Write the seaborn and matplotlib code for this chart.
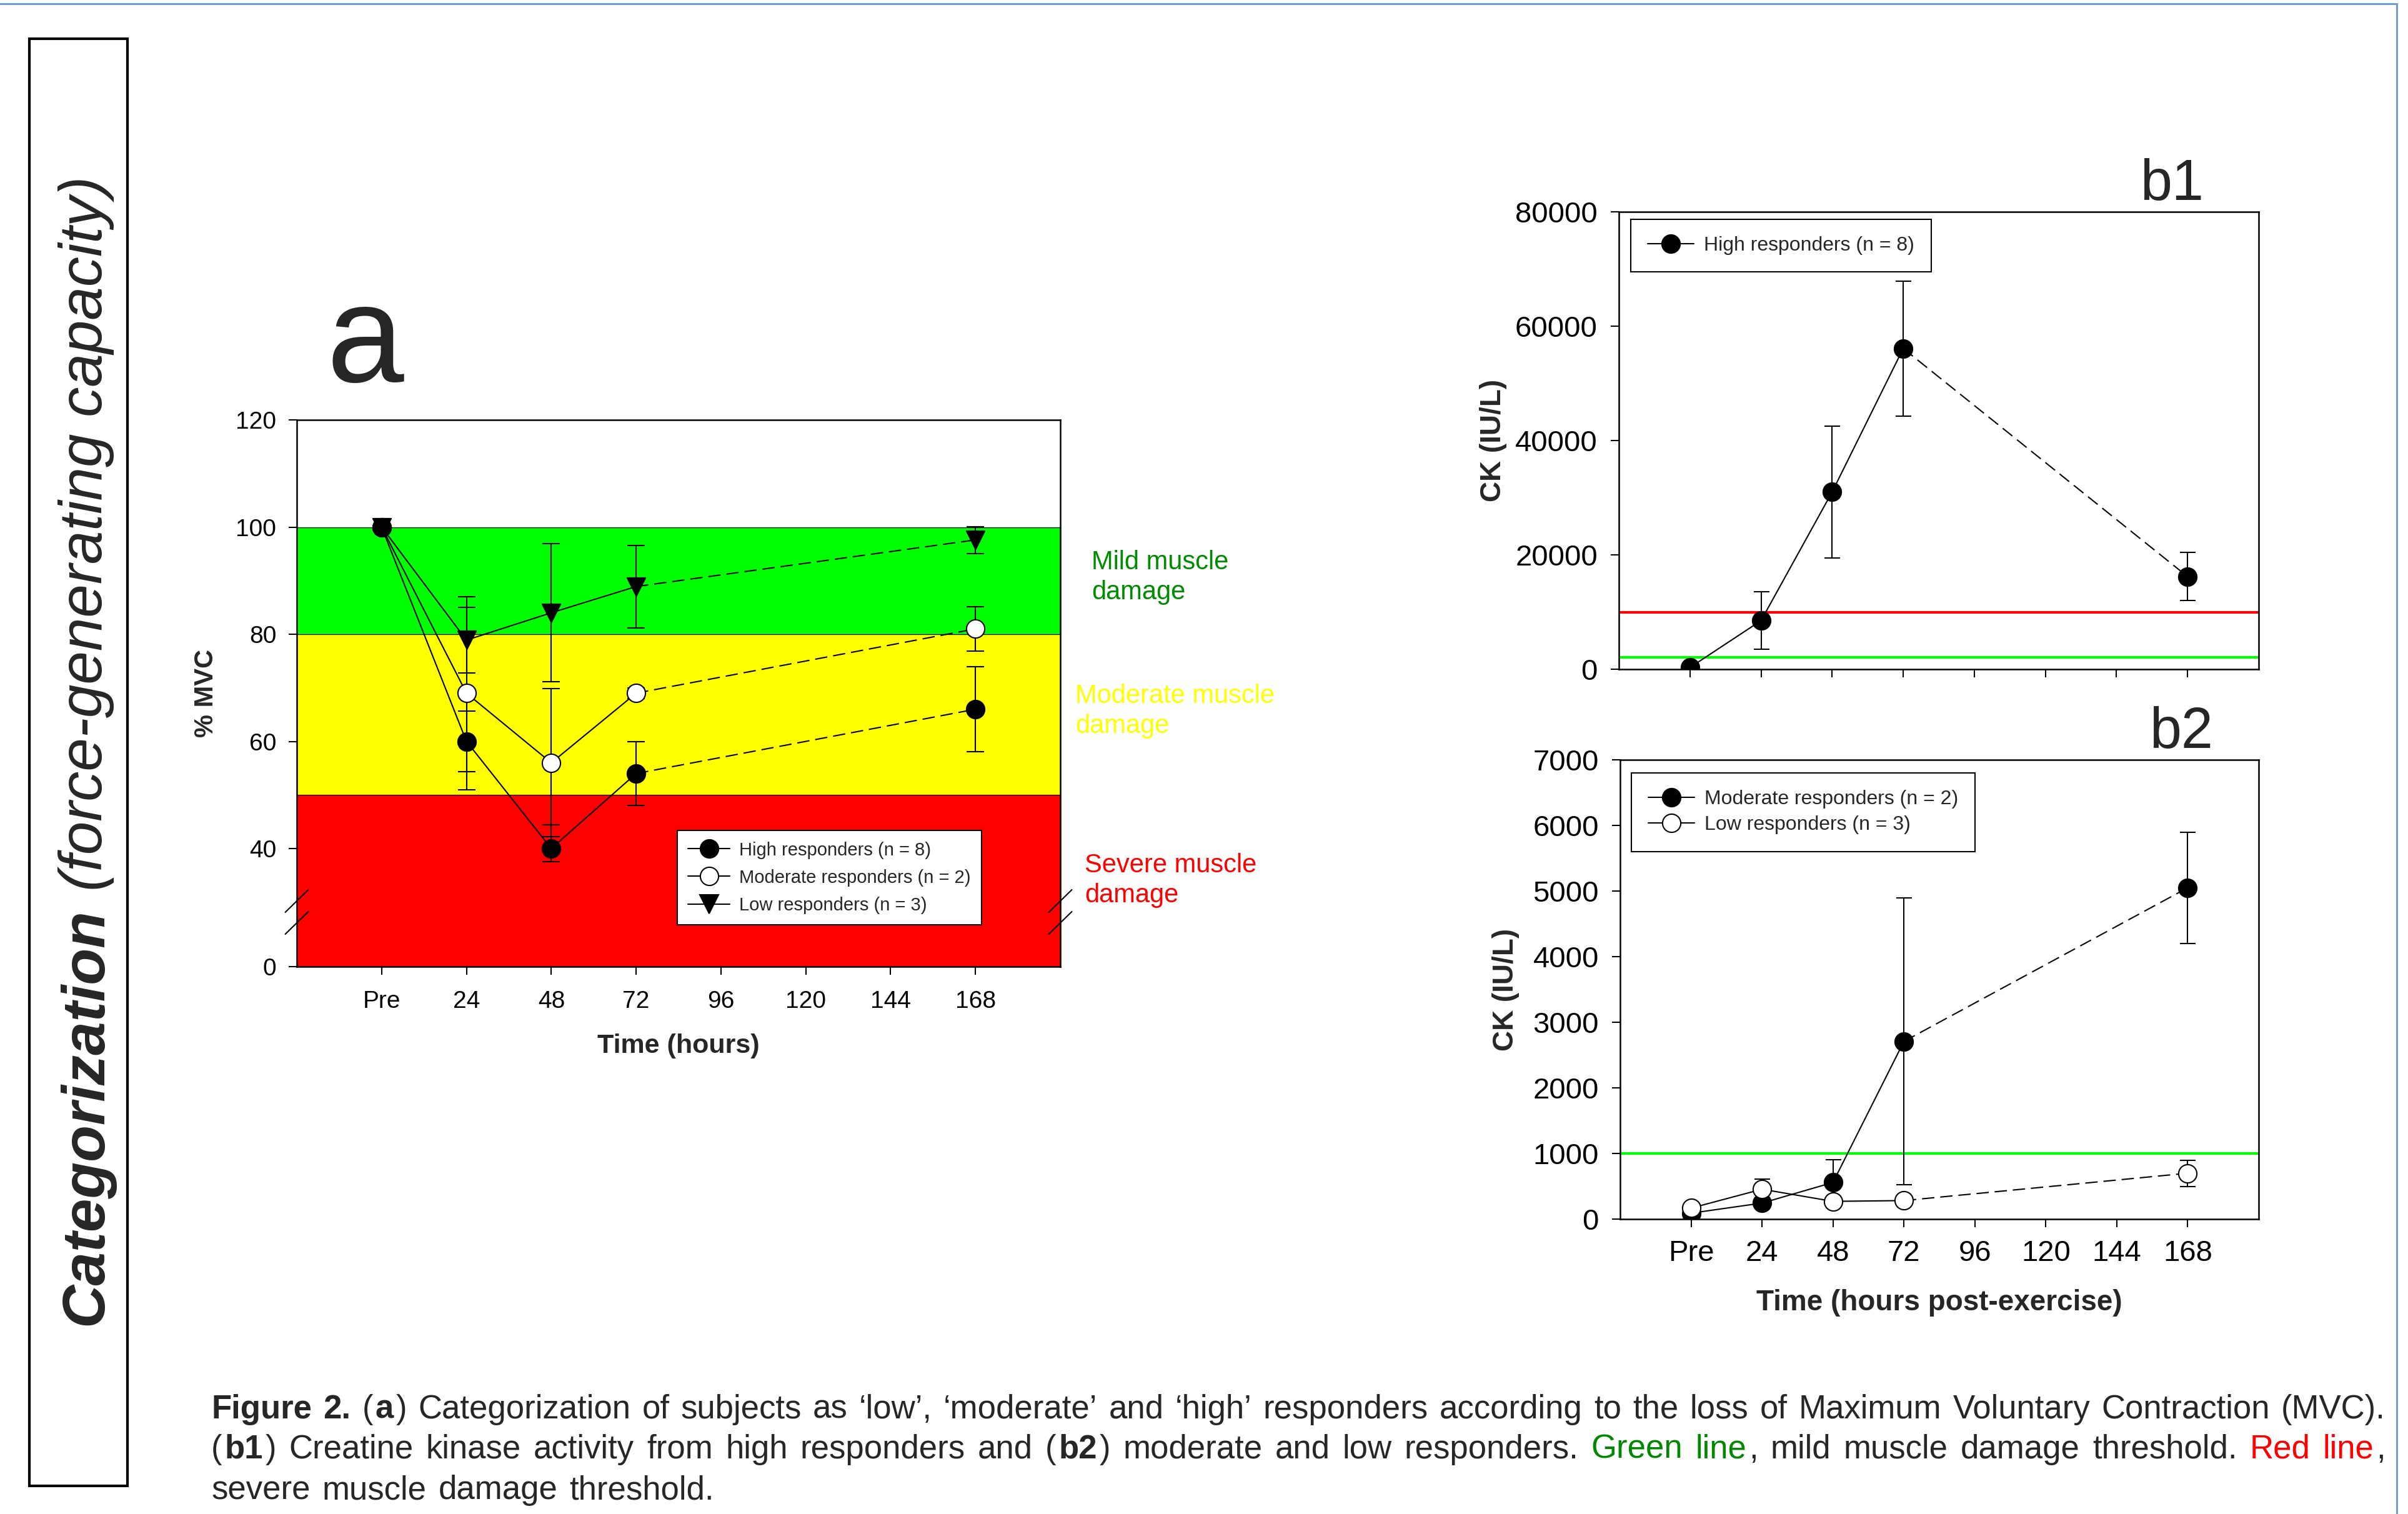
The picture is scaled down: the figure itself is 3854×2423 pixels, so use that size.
import numpy as np
import matplotlib
matplotlib.use("Agg")
import matplotlib.pyplot as plt
import seaborn as sns
from matplotlib.lines import Line2D
from matplotlib.patches import Rectangle

# time points (hours) and axis ticks
hours = [0, 24, 48, 72, 168]
tick_hours = [0, 24, 48, 72, 96, 120, 144, 168]
tick_labels = ["Pre", "24", "48", "72", "96", "120", "144", "168"]

# panel a: % MVC (mean, error)
mvc_high = [100, 60, 40, 54, 66]
mvc_high_err = [0.5, 5.7, 4.4, 5.9, 7.9]
mvc_mod = [100, 69, 56, 69, 81]
mvc_mod_err = [0.5, 18, 13.8, 1.0, 4.1]
mvc_low = [100, 78.9, 84, 88.9, 97.6]
mvc_low_err = [0.5, 6.1, 12.9, 7.7, 2.5]
mvc_ticks = [0, 40, 60, 80, 100, 120]
band_edges = [0, 50, 80, 100]

# panel b1: CK high responders
ck_high = [300, 8500, 31000, 56100, 16200]
ck_high_err = [100, 5000, 11500, 11800, 4200]
ck_high_ticks = [0, 20000, 40000, 60000, 80000]
b1_severe = 10000
b1_mild = 2100

# panel b2: CK moderate / low responders
ck_mod = [90, 244, 558, 2708, 5050]
ck_mod_err = [40, 80, 350, 2185, 850]
ck_low = [167, 455, 270, 282, 699]
ck_low_err = [40, 155, 40, 40, 200]
ck_low_ticks = [0, 1000, 2000, 3000, 4000, 5000, 6000, 7000]
b2_mild = 1000

sns.set_theme(style="ticks")
plt.rcParams["font.family"] = ["Liberation Sans", "DejaVu Sans"]
plt.rcParams["axes.linewidth"] = 1.8

W, H = 3854, 2423
fig = plt.figure(figsize=(W / 100, H / 100), dpi=100)
fig.patch.set_facecolor("white")


def frac(x, y):
    return x / W, 1 - y / H


def make_axes(left, top, right, bottom):
    x0, y1 = frac(left, top)
    x1, y0 = frac(right, bottom)
    ax = fig.add_axes([x0, y0, x1 - x0, y1 - y0])
    ax.set_facecolor("white")
    for s in ax.spines.values():
        s.set_color("black")
        s.set_linewidth(1.8)
    ax.tick_params(direction="out", length=9.5, width=1.5, colors="black",
                   top=False, right=False)
    ax.set_xlim(-24, 192)
    ax.set_xticks(tick_hours)
    return ax


def draw_series(ax, y, err, marker, face, ms=21, cap=10):
    ax.errorbar(hours, y, yerr=err, fmt="none", ecolor="black", elinewidth=1.5,
                capsize=cap, capthick=1.5, zorder=3)
    sns.lineplot(x=hours[:4], y=y[:4], ax=ax, color="black", linewidth=1.5,
                 estimator=None, sort=False, zorder=4)
    sns.lineplot(x=hours[3:], y=y[3:], ax=ax, color="black", linewidth=1.5,
                 estimator=None, sort=False, linestyle=(0, (9.5, 4.5)), zorder=4)
    sns.scatterplot(x=hours, y=y, ax=ax, marker=marker, s=ms ** 2, color=face,
                    edgecolor="black", linewidth=1.5, zorder=5, legend=False)


def handle(marker, face, ms=21):
    return Line2D([0], [0], color="black", lw=1.5, marker=marker, markersize=ms,
                  markerfacecolor=face, markeredgecolor="black", markeredgewidth=1.5)


def add_legend(ax, handles, labels, x0, top, size, bpad, lspace):
    leg = ax.legend(handles, labels, loc="upper left", bbox_to_anchor=(x0, top),
                    frameon=True, fancybox=False, edgecolor="black", framealpha=1,
                    fontsize=size, handlelength=2.3, handletextpad=0.5,
                    labelspacing=lspace, borderpad=bpad, borderaxespad=0)
    leg.get_frame().set_linewidth(1.5)
    leg.set_zorder(10)


# ---------------- panel a ----------------
def fwd(v):
    v = np.asarray(v, float)
    return np.where(v >= 40, v, 40 - (40 - v) * 0.551)


def inv(t):
    t = np.asarray(t, float)
    return np.where(t >= 40, t, 40 - (40 - t) / 0.551)


axa = make_axes(475, 672, 1697, 1547)
axa.set_yscale("function", functions=(fwd, inv))
axa.set_ylim(0, 120)
for lo, hi, c in zip(band_edges[:-1], band_edges[1:], ["#ff0000", "#ffff00", "#00ff00"]):
    axa.axhspan(lo, hi, color=c, lw=0, zorder=0)
for v in band_edges[1:]:
    axa.axhline(v, color="black", lw=0.9, zorder=1)

draw_series(axa, mvc_low, mvc_low_err, "v", "black")
draw_series(axa, mvc_mod, mvc_mod_err, "o", "white")
draw_series(axa, mvc_high, mvc_high_err, "o", "black")

axa.set_yticks(mvc_ticks)
axa.set_yticklabels([str(t) for t in mvc_ticks])
axa.set_xticklabels(tick_labels)
axa.tick_params(axis="y", labelsize=28, pad=14)
axa.tick_params(axis="x", labelsize=28, pad=18)
axa.set_xlabel("Time (hours)", fontsize=31, fontweight="bold")
axa.set_ylabel("% MVC", fontsize=30, fontweight="bold")
axa.yaxis.set_label_coords(-0.102, 0.5)
axa.xaxis.set_label_coords(0.5, -0.122)

# axis break marks
for yb in (0.08, 0.12):
    for xb in (0.0, 1.0):
        axa.plot([xb - 0.0151, xb + 0.0151], [yb - 0.0206, yb + 0.0206],
                 transform=axa.transAxes, color="black", lw=1.5, clip_on=False, zorder=6)

add_legend(axa,
           [handle("o", "black"), handle("o", "white"), handle("v", "black")],
           ["High responders (n = 8)", "Moderate responders (n = 2)", "Low responders (n = 3)"],
           0.498, 0.249, 21, 0.6, 0.55)

fig.text(*frac(1747, 880), "Mild muscle\ndamage", color="#008c00", fontsize=30,
         ha="left", va="top", linespacing=1.25)
fig.text(*frac(1721, 1094), "Moderate muscle\ndamage", color="#ffff00", fontsize=30,
         ha="left", va="top", linespacing=1.25)
fig.text(*frac(1736, 1365), "Severe muscle\ndamage", color="#ff0000", fontsize=30,
         ha="left", va="top", linespacing=1.25)
fig.text(*frac(522, 611), "a", fontsize=160, ha="left", va="baseline")

# ---------------- panel b1 ----------------
axb1 = make_axes(2591, 339, 3615, 1071)
axb1.set_ylim(0, 80000)
axb1.set_yticks(ck_high_ticks)
axb1.set_xticklabels([])
axb1.axhline(b1_severe, color="#ff0000", lw=3, zorder=2)
axb1.axhline(b1_mild, color="#00ff00", lw=3, zorder=2)
draw_series(axb1, ck_high, ck_high_err, "o", "black", cap=9)
axb1.tick_params(axis="y", labelsize=34, pad=15)
axb1.set_ylabel("CK (IU/L)", fontsize=33, fontweight="bold")
axb1.yaxis.set_label_coords(-0.175, 0.5)
add_legend(axb1, [handle("o", "black")], ["High responders (n = 8)"],
           0.0186, 0.9836, 23, 0.85, 0.35)
fig.text(*frac(3425, 320), "b1", fontsize=66, ha="left", va="baseline")

# ---------------- panel b2 ----------------
axb2 = make_axes(2593, 1216, 3615, 1951)
axb2.set_ylim(0, 7000)
axb2.set_yticks(ck_low_ticks)
axb2.set_xticklabels(tick_labels)
axb2.axhline(b2_mild, color="#00ff00", lw=3, zorder=2)
draw_series(axb2, ck_mod, ck_mod_err, "o", "black", cap=9)
draw_series(axb2, ck_low, ck_low_err, "o", "white", cap=9)
axb2.tick_params(axis="y", labelsize=34, pad=15)
axb2.tick_params(axis="x", labelsize=34, pad=14)
axb2.set_ylabel("CK (IU/L)", fontsize=33, fontweight="bold")
axb2.yaxis.set_label_coords(-0.158, 0.5)
axb2.set_xlabel("Time (hours post-exercise)", fontsize=33, fontweight="bold")
axb2.xaxis.set_label_coords(0.5, -0.152)
add_legend(axb2, [handle("o", "black"), handle("o", "white")],
           ["Moderate responders (n = 2)", "Low responders (n = 3)"],
           0.0176, 0.9714, 23, 0.85, 0.35)
fig.text(*frac(3440, 1197), "b2", fontsize=66, ha="left", va="baseline")

# ---------------- side box ----------------
fig.add_artist(Rectangle(frac(47, 2378), 157 / W, 2316 / H, transform=fig.transFigure,
                         fill=False, edgecolor="black", lw=3))
renderer = fig.canvas.get_renderer()
t1 = fig.text(*frac(163, 2121), "Categorization", fontsize=69.2, fontweight="bold",
              fontstyle="italic", rotation=90, rotation_mode="anchor",
              ha="left", va="baseline")
len1 = t1.get_window_extent(renderer).height
fig.text(163 / W, 1 - (2121 - len1 - 27) / H, "(force-generating capacity)", fontsize=69.2,
         fontstyle="italic", rotation=90, rotation_mode="anchor", ha="left", va="baseline")

# ---------------- caption ----------------
cap_size = 38
styles = {"n": {}, "b": {"fontweight": "bold"}, "g": {"color": "#008800"},
          "r": {"color": "#ff0000"}}


def plain(s):
    return [[(w, "n")] for w in s.split()]


def width(s, st):
    t = fig.text(0, 0, s, fontsize=cap_size, **styles[st])
    w = t.get_window_extent(renderer).width
    t.remove()
    return w


def draw_words(words, baseline, left, right=None):
    pad = 0.07 * cap_size * 100 / 72
    widths = []
    for wd in words:
        widths.append([width(s, st) for s, st in wd])
    totals = [sum(w) + pad * (len(w) - 1) for w in widths]
    if right is None:
        gap = 0.36 * cap_size * 100 / 72
    else:
        gap = (right - left - sum(totals)) / (len(words) - 1)
    x = left
    for wd, ws, tot in zip(words, widths, totals):
        xx = x
        for (s, st), w in zip(wd, ws):
            fig.text(*frac(xx, baseline), s, fontsize=cap_size, ha="left",
                     va="baseline", **styles[st])
            xx += w + pad
        x += tot + gap


line1 = ([[("Figure", "b")], [("2.", "b")], [("(", "n"), ("a", "b"), (")", "n")]]
         + plain("Categorization of subjects as \u2018low\u2019, \u2018moderate\u2019 and "
                 "\u2018high\u2019 responders according to the loss of Maximum Voluntary "
                 "Contraction (MVC)."))
line2 = ([[("(", "n"), ("b1", "b"), (")", "n")]]
         + plain("Creatine kinase activity from high responders and")
         + [[("(", "n"), ("b2", "b"), (")", "n")]]
         + plain("moderate and low responders.")
         + [[("Green", "g")], [("line", "g"), (",", "n")]]
         + plain("mild muscle damage threshold.")
         + [[("Red", "r")], [("line", "r"), (",", "n")]])
line3 = plain("severe muscle damage threshold.")

draw_words(line1, 2270, 338, 3818)
draw_words(line2, 2334, 338, 3818)
draw_words(line3, 2399, 338)

# window frame
fig.add_artist(Line2D([0, 3836 / W], [1 - 6 / H, 1 - 6 / H], color="#6d9eda", lw=2.2,
                      transform=fig.transFigure))
fig.add_artist(Line2D([3836 / W, 3836 / W], [0, 1 - 6 / H], color="#6d9eda", lw=2.2,
                      transform=fig.transFigure))

fig.savefig("out.png", dpi=100, facecolor="white")
